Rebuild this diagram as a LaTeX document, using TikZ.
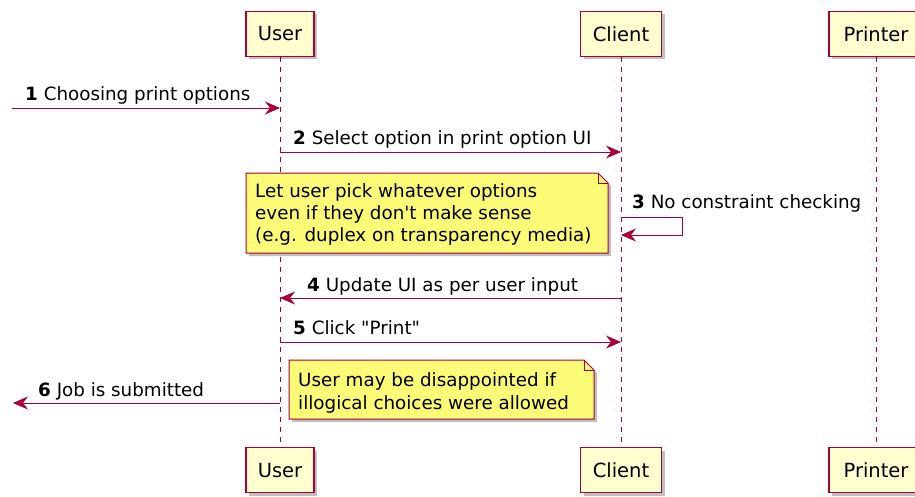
\documentclass[tikz,border=0pt]{standalone}
\usepackage{fontspec}
\setmainfont{DejaVu Sans}
\usetikzlibrary{arrows.meta,shadows}
\definecolor{pborder}{HTML}{A80036}
\definecolor{pfill}{HTML}{FEFECE}
\definecolor{nfill}{HTML}{FBFB77}
\tikzset{
  part/.style={draw=pborder, fill=pfill, line width=1.3pt, minimum height=45pt, inner sep=0pt,
    font=\fontsize{19.5}{22}\selectfont,
    drop shadow={shadow xshift=3pt, shadow yshift=-3pt, fill=black, opacity=0.25}},
  life/.style={draw=pborder, dash pattern=on 5pt off 5pt, line width=0.9pt},
  msg/.style={draw=pborder, line width=1pt, -{Stealth[length=15pt,width=13pt,inset=5pt]}},
  lbl/.style={anchor=base west, inner sep=0pt, font=\fontsize{18.3}{22}\selectfont},
  notebox/.style={draw=pborder, fill=nfill, line width=1pt,
    drop shadow={shadow xshift=3pt, shadow yshift=-3pt, fill=black, opacity=0.25}},
  notefold/.style={draw=pborder, line width=1pt},
  notetext/.style={anchor=base west, inner sep=0pt, align=left},
}
\begin{document}
\begin{tikzpicture}[x=1pt,y=-1pt]
\useasboundingbox (0,0) rectangle (915,496);
% lifelines first (behind)
\coordinate (ut) at (280,57);  \coordinate (ub) at (280,447);
\coordinate (ct) at (621,57);  \coordinate (cb) at (621,447);
\coordinate (pt) at (876,57);  \coordinate (pb) at (876,447);
\draw[life] (ut) -- (ub);
\draw[life] (ct) -- (cb);
\draw[life] (pt) -- (pb);
% participants
\node[part, minimum width=68pt] (u1) at (ut) [anchor=south] {User};
\node[part, minimum width=81pt] (c1) at (ct) [anchor=south] {Client};
\node[part, minimum width=94pt] (p1) at (pt) [anchor=south] {Printer};
\node[part, minimum width=68pt] (u2) at (ub) [anchor=north] {User};
\node[part, minimum width=81pt] (c2) at (cb) [anchor=north] {Client};
\node[part, minimum width=94pt] (p2) at (pb) [anchor=north] {Printer};
% message 1
\coordinate (m1) at (12,108);
\draw[msg] (m1) -- (m1 -| u1.south);
\node[lbl] (l1) at (25,100) {\textbf{1} Choosing print options};
% message 2
\coordinate (m2) at (280,152);
\draw[msg] (m2 -| u1.south) -- (m2 -| c1.south);
\node[lbl] (l2) at (293,144) {\textbf{2} Select option in print option UI};
% note 1
\path[notebox] (246,173) -- (598,173) -- (608,183) -- (608,253) -- (246,253) -- cycle;
\draw[notefold] (598,173) -- (598,183) -- (608,183);
\node[notetext, font=\fontsize{18.3}{21.7}\selectfont] (n1) at (255,241) {Let user pick whatever options\\even if they don\textquotesingle{}t make sense\\(e.g. duplex on transparency media)};
% message 3 (self)
\coordinate (m3a) at (682,217);
\coordinate (m3b) at (682,235);
\draw[msg] (m3a -| c1.south) -- (m3a) -- (m3b) -- (m3b -| c1.south);
\node[lbl] (l3) at (632,208) {\textbf{3} No constraint checking};
% message 4
\coordinate (m4) at (280,298);
\draw[msg] (m4 -| c1.south) -- (m4 -| u1.south);
\node[lbl] (l4) at (307,291) {\textbf{4} Update UI as per user input};
% message 5
\coordinate (m5) at (280,342);
\draw[msg] (m5 -| u1.south) -- (m5 -| c1.south);
\node[lbl] (l5) at (293,334) {\textbf{5} Click \textquotedbl{}Print\textquotedbl{}};
% note 2
\path[notebox] (289,360) -- (584,360) -- (594,370) -- (594,419) -- (289,419) -- cycle;
\draw[notefold] (584,360) -- (584,370) -- (594,370);
\node[notetext, font=\fontsize{18.3}{23}\selectfont] (n2) at (298,409) {User may be disappointed if\\illogical choices were allowed};
% message 6
\coordinate (m6) at (13,403);
\draw[msg] (m6 -| u1.south) -- (m6);
\node[lbl] (l6) at (38,396) {\textbf{6} Job is submitted};
\end{tikzpicture}
\end{document}
